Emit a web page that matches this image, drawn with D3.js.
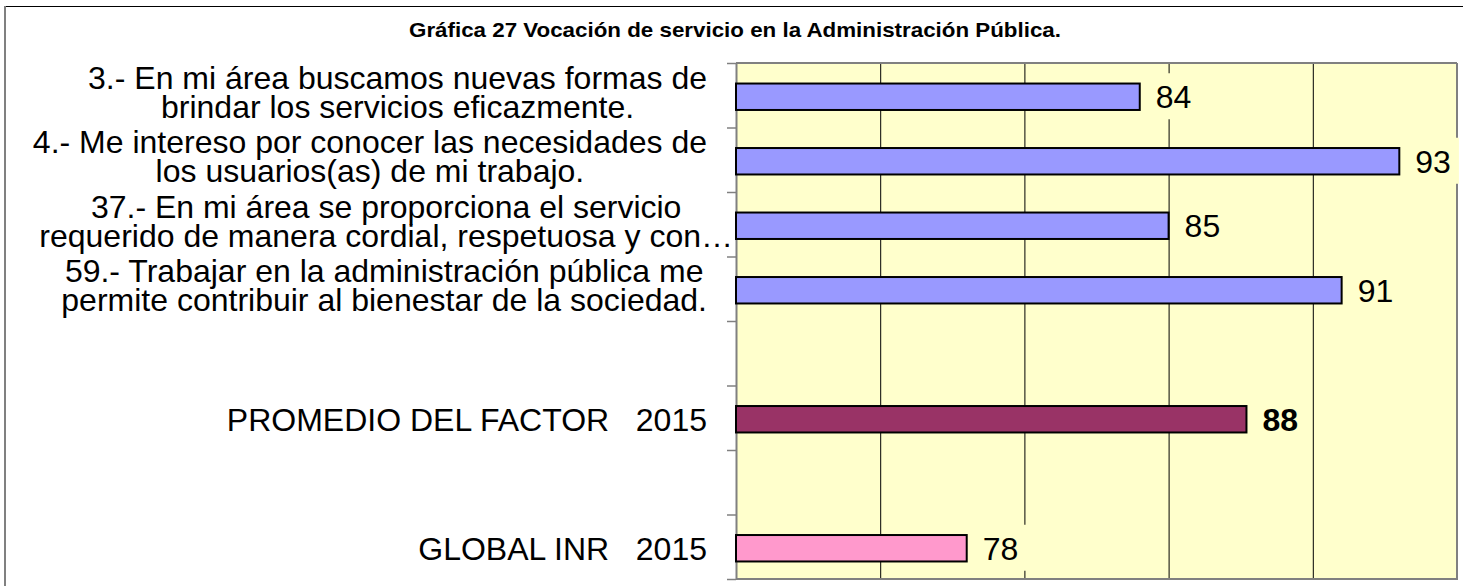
<!DOCTYPE html>
<html>
<head>
<meta charset="utf-8">
<script src="https://cdn.jsdelivr.net/npm/d3@7"></script>
<style>
  html, body { margin: 0; padding: 0; background: #ffffff; }
  svg { display: block; }
  text { font-family: "Liberation Sans", Arial, sans-serif; white-space: pre; }
</style>
</head>
<body>
<svg id="chart" width="1465" height="586"></svg>
<script>
// ---- Data ----
const title = "Gráfica 27 Vocación de servicio en la Administración Pública.";
const categoryLines = [
  ["3.- En mi área buscamos nuevas formas de", "brindar los servicios eficazmente."],
  ["4.- Me intereso por conocer las necesidades de", "los usuarios(as) de mi trabajo."],
  ["37.- En mi área se proporciona el servicio", "requerido de manera cordial, respetuosa y con…"],
  ["59.- Trabajar en la administración pública me", "permite contribuir al bienestar de la sociedad."],
  [""],
  ["PROMEDIO DEL FACTOR   2015"],
  [""],
  ["GLOBAL INR   2015"]
];
const values = [84, 93, 85, 91, null, 87.7, null, 78];
const seriesKind = ["item", "item", "item", "item", null, "promedio", null, "global"];
const xDomain = [70, 95];
const xTicks = [75, 80, 85, 90];

// ---- Styles ----
const fillByKind = { item: "#9999FF", promedio: "#993366", global: "#FF99CC" };
const plotBg = "#FFFFCC";

const svg = d3.select("#chart");
const W = 1465, H = 586;
const plot = { left: 736, right: 1457, top: 63, bottom: 579 };
const fmt = d3.format(".0f");

// outer frame
svg.append("rect").attr("x", 0).attr("y", 0).attr("width", W).attr("height", H).attr("fill", "#ffffff");
svg.append("line").attr("x1", 4).attr("x2", 1463).attr("y1", 6.5).attr("y2", 6.5)
  .attr("stroke", "#000").attr("stroke-width", 1);
svg.append("line").attr("x1", 5).attr("x2", 5).attr("y1", 6).attr("y2", H)
  .attr("stroke", "#808080").attr("stroke-width", 2);

// title
svg.append("text").attr("x", 735).attr("y", 37).attr("text-anchor", "middle")
  .attr("font-size", 21).attr("font-weight", "bold").attr("fill", "#000")
  .attr("textLength", 652).attr("lengthAdjust", "spacingAndGlyphs")
  .text(title);

const idx = d3.range(values.length);
const x = d3.scaleLinear().domain(xDomain).range([plot.left, plot.right]);
const y = d3.scaleBand().domain(idx).range([plot.top, plot.bottom]).paddingInner(0.59).paddingOuter(0.295);
const yEdges = d3.scaleLinear().domain([0, values.length]).range([plot.top, plot.bottom]);

// plot background
svg.append("rect").attr("x", plot.left).attr("y", plot.top)
  .attr("width", plot.right - plot.left).attr("height", plot.bottom - plot.top)
  .attr("fill", plotBg);

// gridlines
const grid = svg.append("g").attr("transform", `translate(0,${plot.bottom})`)
  .call(d3.axisBottom(x).tickValues(xTicks).tickSize(-(plot.bottom - plot.top)).tickFormat(""));
grid.select(".domain").remove();
grid.selectAll(".tick line").attr("stroke", "#000").attr("stroke-width", 1);

// plot border (top, right, bottom)
const border = svg.append("g").attr("fill", "none").attr("stroke", "#808080");
border.append("line").attr("x1", plot.left).attr("x2", plot.right).attr("y1", plot.top).attr("y2", plot.top).attr("stroke-width", 2);
border.append("line").attr("x1", plot.right).attr("x2", plot.right).attr("y1", plot.top).attr("y2", plot.bottom + 1).attr("stroke-width", 2);
border.append("line").attr("x1", plot.left).attr("x2", plot.right).attr("y1", plot.bottom).attr("y2", plot.bottom).attr("stroke-width", 2);

// left axis with ticks at category boundaries
const yAxis = svg.append("g").attr("transform", `translate(${plot.left},0)`)
  .call(d3.axisLeft(yEdges).tickValues(d3.range(values.length + 1)).tickSize(9).tickSizeOuter(0).tickFormat(""));
yAxis.select(".domain").attr("stroke", "#808080").attr("stroke-width", 2);
yAxis.selectAll(".tick line").attr("stroke", "#808080").attr("stroke-width", 1.5);

// bars
const barData = idx.filter(i => values[i] != null);
const cy = i => y(i) + y.bandwidth() / 2 + 1.5;
svg.append("g").selectAll("rect").data(barData).join("rect")
  .attr("x", x(xDomain[0]))
  .attr("y", i => y(i) + 1.5)
  .attr("width", i => x(values[i]) - x(xDomain[0]))
  .attr("height", y.bandwidth())
  .attr("fill", i => fillByKind[seriesKind[i]])
  .attr("stroke", "#000").attr("stroke-width", 2);

// value labels (with plot-coloured backing boxes)
const vl = svg.append("g").selectAll("g").data(barData).join("g");
const vtext = vl.append("text")
  .attr("x", i => x(values[i]) + 16)
  .attr("y", i => cy(i) + 11.5)
  .attr("font-size", 32)
  .attr("font-weight", i => seriesKind[i] === "promedio" ? "bold" : "normal")
  .attr("fill", "#000")
  .text(i => fmt(values[i]));
vl.each(function(i) {
  const g = d3.select(this);
  const t = g.select("text");
  const w = t.node().getComputedTextLength();
  g.insert("rect", "text")
    .attr("x", x(values[i]) + 10)
    .attr("y", cy(i) - 23.5)
    .attr("width", w + 14)
    .attr("height", 46)
    .attr("fill", plotBg);
});

// category labels
const labelRight = 707;
const lineGap = 29;
const labels = svg.append("g").attr("font-size", 32).attr("fill", "#000");
idx.forEach(i => {
  const lines = categoryLines[i];
  if (lines.length === 1 && lines[0] === "") return;
  const c = cy(i);
  if (lines.length === 1) {
    labels.append("text").attr("x", labelRight).attr("y", c + 12).attr("text-anchor", "end").text(lines[0]);
    return;
  }
  const t = labels.append("text").attr("text-anchor", "middle");
  const ts = lines.map((s, k) => t.append("tspan").attr("y", c - 8 + k * lineGap).text(s));
  const widths = ts.map(s => s.node().getComputedTextLength());
  const wMax = d3.max(widths);
  const truncated = lines.some(s => s.endsWith("…"));
  const right = truncated ? plot.left - 3 : labelRight;
  ts.forEach(s => s.attr("x", right - wMax / 2));
});
</script>
</body>
</html>
